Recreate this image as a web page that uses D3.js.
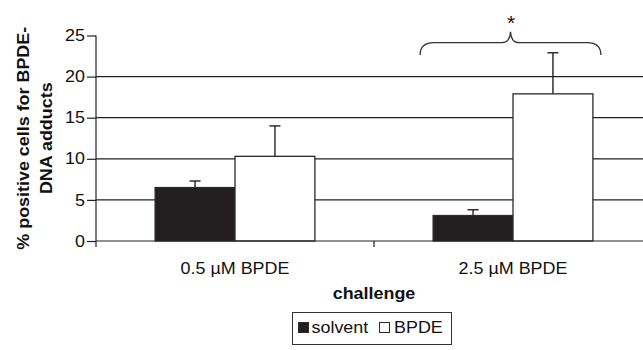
<!DOCTYPE html>
<html>
<head>
<meta charset="utf-8">
<script src="https://cdn.jsdelivr.net/npm/d3@7"></script>
<style>
  html, body { margin: 0; padding: 0; background: #fff; }
  svg { display: block; font-family: "Liberation Sans", Arial, sans-serif; }
</style>
</head>
<body>
<svg id="chart" width="643" height="350"></svg>
<script>
const categories = ["0.5 µM BPDE", "2.5 µM BPDE"];
const series = ["solvent", "BPDE"];
const solventValues = [6.5, 3.1];
const solventErrors = [0.8, 0.7];
const bpdeValues = [10.3, 17.9];
const bpdeErrors = [3.7, 5.0];
const yTicks = [0, 5, 10, 15, 20, 25];
const gridValues = [5, 10, 15, 20];
const yLabelLines = ["% positive cells for BPDE-", "DNA adducts"];
const xTitle = "challenge";
const significance = "*";

const rows = categories.map((c, i) => ({
  category: c,
  values: [
    { key: "solvent", value: solventValues[i], err: solventErrors[i] },
    { key: "BPDE", value: bpdeValues[i], err: bpdeErrors[i] }
  ]
}));

const svg = d3.select("#chart");
const pLeft = 96, pRight = 652, pTop = 35.5, pBottom = 241;
const ink = "#222";
const sx = 1.12; // horizontal text stretch seen in reference

const y = d3.scaleLinear().domain([0, 25]).range([pBottom, pTop]);
const x0 = d3.scaleBand().domain(categories).range([pLeft, pRight]).padding(0);
const x1 = d3.scaleBand().domain(series).range([0, x0.bandwidth()]).paddingInner(0).paddingOuter(0.74);
const fill = d3.scaleOrdinal().domain(series).range(["#231f20", "#ffffff"]);

// gridlines
svg.append("g").selectAll("line").data(gridValues).join("line")
  .attr("x1", pLeft).attr("x2", pRight)
  .attr("y1", d => y(d)).attr("y2", d => y(d))
  .attr("stroke", ink).attr("stroke-width", 1.2);

// bars
const groups = svg.append("g").selectAll("g").data(rows).join("g")
  .attr("transform", d => `translate(${x0(d.category)},0)`);

groups.selectAll("line.err").data(d => d.values).join("line")
  .attr("class", "err")
  .attr("x1", d => x1(d.key) + x1.bandwidth() / 2)
  .attr("x2", d => x1(d.key) + x1.bandwidth() / 2)
  .attr("y1", d => y(d.value)).attr("y2", d => y(d.value + d.err))
  .attr("stroke", ink).attr("stroke-width", 1.4);
groups.selectAll("line.cap").data(d => d.values).join("line")
  .attr("class", "cap")
  .attr("x1", d => x1(d.key) + x1.bandwidth() / 2 - 5.5)
  .attr("x2", d => x1(d.key) + x1.bandwidth() / 2 + 5.5)
  .attr("y1", d => y(d.value + d.err)).attr("y2", d => y(d.value + d.err))
  .attr("stroke", ink).attr("stroke-width", 1.4);

groups.selectAll("rect").data(d => d.values).join("rect")
  .attr("x", d => x1(d.key))
  .attr("y", d => y(d.value))
  .attr("width", x1.bandwidth())
  .attr("height", d => y(0) - y(d.value))
  .attr("fill", d => fill(d.key))
  .attr("stroke", "#2a2a2a").attr("stroke-width", 1.3);

// y axis
const yAxis = d3.axisLeft(y).tickValues(yTicks).tickSize(9).tickPadding(2).tickFormat(d3.format("d"));
const gy = svg.append("g").attr("transform", `translate(${pLeft},0)`).call(yAxis);
gy.select(".domain").attr("stroke", ink).attr("stroke-width", 1.2).attr("d", `M0,${pTop}V${pBottom + 6}`);
gy.selectAll(".tick line").attr("stroke", ink).attr("stroke-width", 1.2);
gy.selectAll(".tick text").attr("font-size", 16).attr("fill", "#111")
  .attr("font-family", "Liberation Sans, Arial, sans-serif")
  .attr("transform", `translate(-11,0) scale(${sx},1) translate(11,0)`);

// x axis line with boundary ticks
svg.append("line").attr("x1", pLeft).attr("x2", pRight).attr("y1", pBottom).attr("y2", pBottom)
  .attr("stroke", ink).attr("stroke-width", 1.2);
svg.append("g").selectAll("line").data(categories.slice(1)).join("line")
  .attr("x1", d => x0(d)).attr("x2", d => x0(d))
  .attr("y1", pBottom).attr("y2", pBottom + 6)
  .attr("stroke", ink).attr("stroke-width", 1.2);

// category labels
svg.append("g").selectAll("text").data(categories).join("text")
  .attr("transform", d => `translate(${x0(d) + x0.bandwidth() / 2},274) scale(${sx},1)`)
  .attr("text-anchor", "middle").attr("font-size", 16).attr("fill", "#111")
  .text(d => d);

// x title
svg.append("text")
  .attr("transform", `translate(${(pLeft + pRight) / 2},299) scale(${sx},1)`)
  .attr("text-anchor", "middle").attr("font-size", 16).attr("font-weight", "bold").attr("fill", "#111")
  .text(xTitle);

// y title
const yt = svg.append("text")
  .attr("transform", `translate(0,${(pTop + pBottom) / 2}) rotate(-90) scale(${sx},1)`)
  .attr("text-anchor", "middle").attr("font-size", 16).attr("font-weight", "bold").attr("fill", "#111");
yLabelLines.forEach((t, i) => {
  yt.append("tspan").attr("x", 0).attr("y", 29 + i * 23).text(t);
});

// significance brace over second group
const c2 = x0(categories[1]);
const bx0 = c2 + x1("solvent") - 13, bx1 = c2 + x1("BPDE") + x1.bandwidth() + 8;
const bm = (bx0 + bx1) / 2;
const yEnd = 55, yFlat = 42.7, yPeak = 31.7;
svg.append("path")
  .attr("d", `M${bx0},${yEnd} Q${bx0},${yFlat} ${bx0 + 14},${yFlat} L${bm - 9},${yFlat} Q${bm - 0.5},${yFlat} ${bm},${yPeak} Q${bm + 0.5},${yFlat} ${bm + 9},${yFlat} L${bx1 - 14},${yFlat} Q${bx1},${yFlat} ${bx1},${yEnd}`)
  .attr("fill", "none").attr("stroke", "#333").attr("stroke-width", 1.3);
svg.append("text").attr("x", bm + 0.5).attr("y", 30).attr("text-anchor", "middle")
  .attr("font-size", 21).attr("fill", "#111").text(significance);

// legend
const lg = svg.append("g");
lg.append("rect").attr("x", 292.5).attr("y", 312.5).attr("width", 159).attr("height", 32)
  .attr("fill", "#fff").attr("stroke", "#333").attr("stroke-width", 1);
const legendItems = [
  { key: series[0], sw: 298.5, tx: 311.5 },
  { key: series[1], sw: 379.5, tx: 394 }
];
legendItems.forEach(it => {
  lg.append("rect").attr("x", it.sw).attr("y", 322.5).attr("width", 10).attr("height", 10)
    .attr("fill", fill(it.key)).attr("stroke", "#2a2a2a").attr("stroke-width", 1);
  lg.append("text").attr("transform", `translate(${it.tx},333) scale(${sx},1)`)
    .attr("font-size", 16).attr("fill", "#111").text(it.key);
});
</script>
</body>
</html>
